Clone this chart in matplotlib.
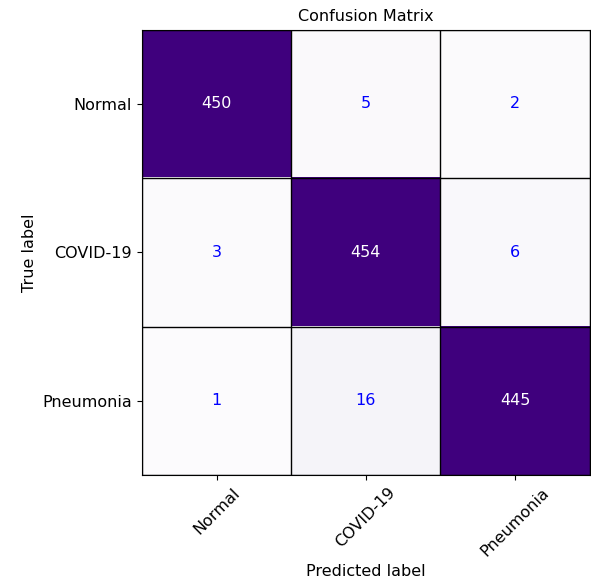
import matplotlib
matplotlib.use("Agg")
import matplotlib.pyplot as plt
import numpy as np

classes = ["Normal", "COVID-19", "Pneumonia"]
cm = np.array([
    [450, 5, 2],
    [3, 454, 6],
    [1, 16, 445],
])

fs = 11.5
fig = plt.figure(figsize=(5.91, 5.83), dpi=100)
ax = fig.add_axes([0.240, 0.185, 0.758, 0.764])

ax.imshow(cm, cmap="Purples", interpolation="nearest", aspect="auto",
          vmin=0, vmax=270)
ax.set_title("Confusion Matrix", fontsize=fs)

ticks = np.arange(len(classes))
ax.set_xticks(ticks)
ax.set_xticklabels(classes, rotation=45, fontsize=fs)
ax.set_yticks(ticks)
ax.set_yticklabels(classes, fontsize=fs)

# cell borders
ax.set_xticks(np.arange(-0.5, len(classes), 1), minor=True)
ax.set_yticks(np.arange(-0.5, len(classes), 1), minor=True)
ax.grid(which="minor", color="black", linewidth=1)
ax.tick_params(which="minor", length=0)

thresh = cm.max() / 2.0
for i in range(cm.shape[0]):
    for j in range(cm.shape[1]):
        ax.text(j, i, str(cm[i, j]), ha="center", va="center", fontsize=fs,
                color="white" if cm[i, j] > thresh else "blue")

ax.set_ylabel("True label", fontsize=fs)
ax.set_xlabel("Predicted label", fontsize=fs)

fig.savefig("out.png", dpi=100)
